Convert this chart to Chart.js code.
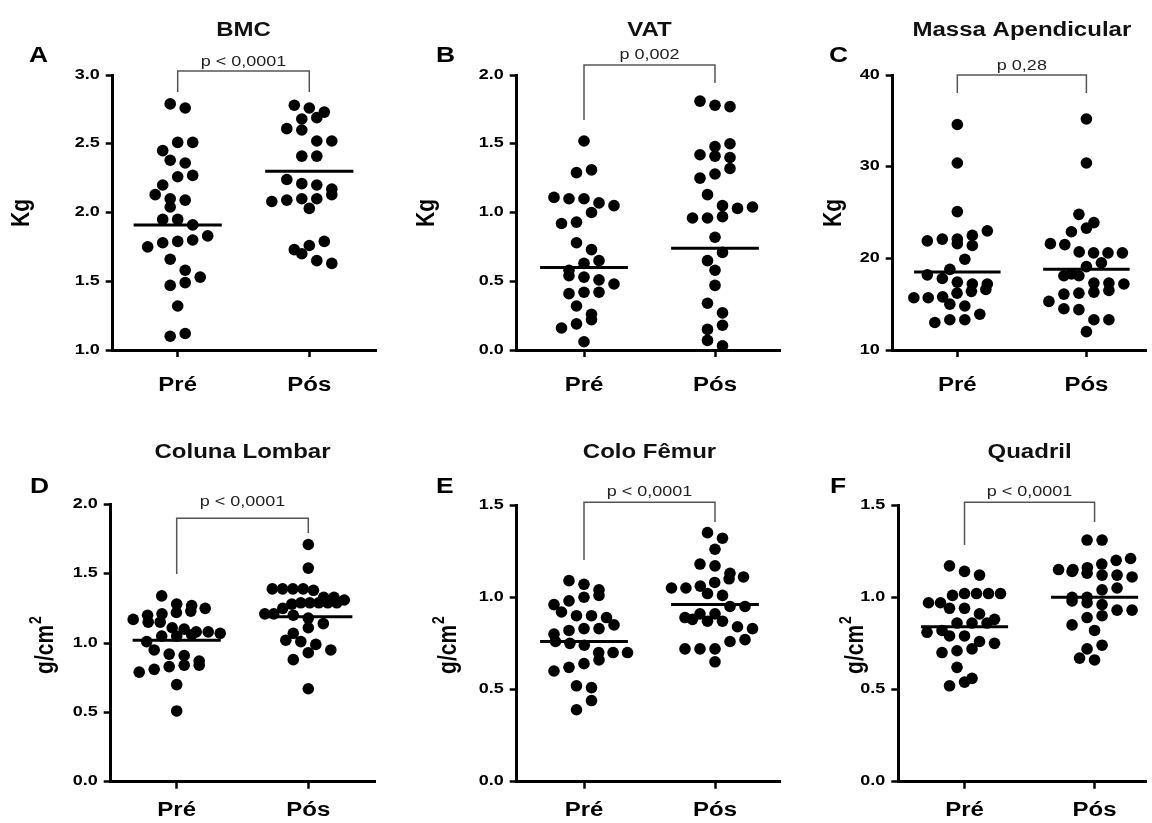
<!DOCTYPE html>
<html>
<head>
<meta charset="utf-8">
<script src="https://cdn.jsdelivr.net/npm/chart.js@4/dist/chart.umd.min.js"></script>
<style>
  html, body { margin: 0; padding: 0; background: #fff; }
  #page { position: relative; width: 1152px; height: 823px; overflow: hidden; background: #fff; }
  #page canvas { position: absolute; }
</style>
</head>
<body>
<div id="page"></div>
<script>
// ---- data ----
const groups = ['Pré', 'Pós'];
const titles = ['BMC', 'VAT', 'Massa Apendicular', 'Coluna Lombar', 'Colo Fêmur', 'Quadril'];
const letters = ['A', 'B', 'C', 'D', 'E', 'F'];
const units = ['Kg', 'Kg', 'Kg', 'g/cm²', 'g/cm²', 'g/cm²'];
const pLabels = ['p < 0,0001', 'p 0,002', 'p 0,28', 'p < 0,0001', 'p < 0,0001', 'p < 0,0001'];
// [min, max, step, decimals]
const yRanges = [[1, 3, 0.5, 1], [0, 2, 0.5, 1], [10, 40, 10, 0], [0, 2, 0.5, 1], [0, 1.5, 0.5, 1], [0, 1.5, 0.5, 1]];

const bmcPre = [2.76, 2.79, 2.51, 2.51, 2.45, 2.36, 2.38, 2.26, 2.27, 2.20, 2.10, 2.13, 2.09, 2.04, 1.95, 1.95, 1.91, 1.83, 1.79, 1.78, 1.80, 1.75, 1.66, 1.58, 1.53, 1.47, 1.49, 1.32, 1.10, 1.12];
const bmcPos = [2.78, 2.76, 2.69, 2.73, 2.68, 2.61, 2.60, 2.52, 2.52, 2.41, 2.41, 2.24, 2.20, 2.17, 2.21, 2.10, 2.09, 2.08, 2.10, 2.13, 2.03, 1.79, 1.76, 1.73, 1.70, 1.63, 1.65];
const bmcLine = [1.91, 2.30];

const vatPre = [1.52, 1.29, 1.31, 1.10, 1.07, 1.10, 1.11, 1.00, 1.05, 0.92, 0.93, 0.78, 0.73, 0.63, 0.65, 0.58, 0.54, 0.51, 0.53, 0.48, 0.42, 0.41, 0.42, 0.32, 0.26, 0.22, 0.19, 0.16, 0.06];
const vatPos = [1.81, 1.77, 1.78, 1.48, 1.50, 1.41, 1.40, 1.42, 1.28, 1.25, 1.32, 1.13, 1.04, 0.96, 0.96, 0.97, 1.03, 1.05, 0.82, 0.71, 0.65, 0.58, 0.47, 0.34, 0.27, 0.18, 0.15, 0.07, 0.03];
const vatLine = [0.60, 0.74];

const massPre = [34.6, 30.4, 25.1, 23.0, 22.1, 21.9, 21.4, 21.6, 22.1, 22.5, 19.9, 18.8, 17.8, 18.2, 17.2, 17.2, 17.4, 16.2, 16.6, 16.4, 15.7, 15.7, 15.8, 15.0, 14.8, 13.9, 13.3, 13.0, 13.3];
const massPos = [35.2, 30.4, 24.8, 23.3, 22.9, 23.9, 21.5, 21.6, 20.6, 20.6, 20.6, 20.7, 19.5, 19.1, 18.1, 18.1, 18.3, 17.3, 17.3, 17.2, 16.3, 16.1, 16.2, 16.5, 15.3, 14.5, 14.4, 13.3, 13.3, 12.0];
const massLine = [18.5, 18.8];

const lumbarPre = [1.34, 1.23, 1.17, 1.15, 1.21, 1.27, 1.20, 1.22, 1.25, 1.28, 1.15, 1.11, 1.10, 1.07, 1.08, 1.08, 1.06, 1.05, 1.05, 1.01, 0.95, 0.91, 0.92, 0.87, 0.84, 0.84, 0.83, 0.81, 0.79, 0.70, 0.51];
const lumbarPos = [1.71, 1.54, 1.39, 1.38, 1.39, 1.39, 1.39, 1.33, 1.33, 1.29, 1.29, 1.28, 1.29, 1.29, 1.29, 1.31, 1.25, 1.21, 1.21, 1.18, 1.20, 1.14, 1.11, 1.07, 1.01, 0.99, 1.02, 0.93, 0.95, 0.88, 0.67];
const lumbarLine = [1.02, 1.19];

const femurPre = [1.09, 1.07, 1.04, 1.00, 1.01, 0.98, 0.96, 0.92, 0.90, 0.90, 0.89, 0.85, 0.83, 0.82, 0.83, 0.80, 0.76, 0.75, 0.74, 0.70, 0.70, 0.70, 0.66, 0.64, 0.62, 0.60, 0.52, 0.51, 0.44, 0.39];
const femurPos = [1.32, 1.35, 1.26, 1.18, 1.17, 1.13, 1.10, 1.11, 1.08, 1.05, 1.05, 1.06, 1.02, 1.01, 0.95, 0.95, 0.91, 0.91, 0.87, 0.87, 0.88, 0.89, 0.84, 0.83, 0.77, 0.76, 0.72, 0.72, 0.72, 0.65];
const femurLine = [0.76, 0.96];

const hipPre = [1.17, 1.12, 1.14, 1.02, 1.02, 1.01, 1.02, 1.02, 0.97, 0.97, 0.94, 0.94, 0.91, 0.88, 0.86, 0.82, 0.81, 0.86, 0.86, 0.79, 0.79, 0.76, 0.72, 0.75, 0.70, 0.71, 0.62, 0.56, 0.54, 0.52];
const hipPos = [1.31, 1.31, 1.21, 1.20, 1.18, 1.16, 1.15, 1.13, 1.12, 1.12, 1.11, 1.14, 1.15, 1.05, 1.04, 1.00, 1.00, 0.98, 0.96, 0.97, 0.93, 0.93, 0.90, 0.89, 0.85, 0.82, 0.72, 0.74, 0.66, 0.67];
const hipLine = [0.84, 1.00];

const seriesList = [[bmcPre, bmcPos], [vatPre, vatPos], [massPre, massPos], [lumbarPre, lumbarPos], [femurPre, femurPos], [hipPre, hipPos]];
const lineList = [bmcLine, vatLine, massLine, lumbarLine, femurLine, hipLine];

// ---- layout (page pixel coordinates) ----
const layouts = [
  { box: [0, 0, 400, 411],     area: [112.7, 75, 376, 350],      pre: 177.7, pos: 309.3,  br: [71, 92, 92, 66],       titleY: 36,  letter: [29, 62],  unit: [22.5, 213], catY: 391 },
  { box: [400, 0, 392, 411],   area: [516.7, 75, 780, 350],      pre: 584,   pos: 715,    br: [65, 120, 83, 59],      titleY: 36,  letter: [436, 62], unit: [427, 213],  catY: 391 },
  { box: [792, 0, 360, 411],   area: [892.7, 75, 1150, 350],     pre: 958.3, pos: 1089.3, br: [75, 93, 93, 70],       titleY: 36,  letter: [829, 62], unit: [834, 213],  catY: 391 },
  { box: [0, 411, 400, 412],   area: [110.7, 504.3, 375, 781.7], pre: 176.7, pos: 308.3,  br: [518.3, 574, 533, 506], titleY: 458, letter: [30, 493], unit: [46, 645],   catY: 816 },
  { box: [400, 411, 392, 412], area: [516.7, 505, 780, 781.7],   pre: 584,   pos: 715,    br: [502.3, 560, 522, 496], titleY: 458, letter: [436, 493], unit: [449, 645], catY: 816 },
  { box: [792, 411, 360, 412], area: [898.3, 505, 1148, 781.7],  pre: 965,   pos: 1096,   br: [502.3, 545, 522, 496], titleY: 458, letter: [830, 493], unit: [856, 645], catY: 816 }
];

const FONT = '"Liberation Sans", Arial, Helvetica, sans-serif';
const SX = 1.2;          // horizontal text stretch
const DOT_R = 5.8;
const LINE_HALF = 0.335; // half width of centre line, in category units

function txt(ctx, s, x, y, font, align, color) {
  ctx.save();
  ctx.font = font;
  ctx.fillStyle = color || '#000';
  ctx.textAlign = align;
  ctx.textBaseline = 'alphabetic';
  ctx.translate(x, y);
  ctx.scale(SX, 1);
  ctx.fillText(s, 0, 0);
  ctx.restore();
}

function unitText(ctx, s, x, y) {
  const main = 'bold 21px ' + FONT, sup = 'bold 14px ' + FONT;
  const hasSup = s.indexOf('²') >= 0;
  const base = s.replace('²', '');
  ctx.save();
  ctx.translate(x, y);
  ctx.scale(SX, 1);
  ctx.rotate(-Math.PI / 2);
  ctx.fillStyle = '#000';
  ctx.textBaseline = 'middle';
  ctx.textAlign = 'left';
  ctx.font = main;
  const wb = ctx.measureText(base).width;
  ctx.font = sup;
  const ws = hasSup ? ctx.measureText('2').width + 1 : 0;
  const start = -(wb + ws) / 2;
  ctx.font = main;
  ctx.fillText(base, start, 0);
  if (hasSup) { ctx.font = sup; ctx.fillText('2', start + wb + 1, -8); }
  ctx.restore();
}

// column scatter layout: values close together share a row, spread evenly about the column centre
function rowLayout(py, d, s, maxW) {
  const order = py.map((_, i) => i).sort((a, b) => py[a] - py[b]);
  const bins = [];
  order.forEach(i => {
    const last = bins[bins.length - 1];
    if (last && py[i] - py[last[0]] < d) last.push(i); else bins.push([i]);
  });
  const out = new Array(py.length);
  const placed = [];
  bins.forEach((bin, b) => {
    const n = bin.length;
    const step = n > 1 ? Math.min(s, maxW / (n - 1)) : 0;
    const pos = bin.map((_, j) => (j - (n - 1) / 2) * step);
    if (b % 2) pos.reverse();
    const clash = sh => bin.some((i, j) => placed.some(p => Math.hypot(p.x - (pos[j] + sh), p.y - py[i]) < d * 0.85));
    let shift = 0;
    if (clash(0)) {
      shift = (b % 2 ? 1 : -1) * s / 2;
      if (clash(shift)) shift = -shift;
    }
    bin.forEach((i, j) => {
      out[i] = pos[j] + shift;
      placed.push({ x: out[i], y: py[i] });
    });
  });
  return out;
}

function decor(k) {
  const L = layouts[k], ox = L.box[0], oy = L.box[1], rng = yRanges[k];
  return {
    id: 'decor' + k,
    afterDatasetsDraw(chart) {
      const ctx = chart.ctx, xs = chart.scales.x, ys = chart.scales.y;
      ctx.save();
      ctx.strokeStyle = '#000';
      ctx.lineWidth = 3;
      lineList[k].forEach((v, g) => {
        const y = ys.getPixelForValue(v);
        ctx.beginPath();
        ctx.moveTo(xs.getPixelForValue(g + 1 - LINE_HALF), y);
        ctx.lineTo(xs.getPixelForValue(g + 1 + LINE_HALF), y);
        ctx.stroke();
      });
      ctx.restore();
    },
    afterDraw(chart) {
      const ctx = chart.ctx, xs = chart.scales.x, ys = chart.scales.y, a = chart.chartArea;
      ys.ticks.forEach(t => {
        txt(ctx, t.value.toFixed(rng[3]), a.left - 13, ys.getPixelForValue(t.value) + 3.5, 'bold 15px ' + FONT, 'right');
      });
      groups.forEach((g, i) => txt(ctx, g, xs.getPixelForValue(i + 1), L.catY - oy, 'bold 20px ' + FONT, 'center'));
      const x1 = xs.getPixelForValue(1), x2 = xs.getPixelForValue(2);
      ctx.save();
      ctx.strokeStyle = '#555';
      ctx.lineWidth = 1.5;
      ctx.beginPath();
      ctx.moveTo(x1, L.br[1] - oy);
      ctx.lineTo(x1, L.br[0] - oy);
      ctx.lineTo(x2, L.br[0] - oy);
      ctx.lineTo(x2, L.br[2] - oy);
      ctx.stroke();
      ctx.restore();
      txt(ctx, pLabels[k], (x1 + x2) / 2, L.br[3] - oy, '15px ' + FONT, 'center', '#222');
      txt(ctx, titles[k], (x1 + x2) / 2, L.titleY - oy, 'bold 20px ' + FONT, 'center', '#111');
      txt(ctx, letters[k], L.letter[0] - ox, L.letter[1] - oy, 'bold 22px ' + FONT, 'left');
      unitText(ctx, units[k], L.unit[0] - ox, L.unit[1] - oy);
    }
  };
}

const page = document.getElementById('page');
const axisGrid = { display: true, drawOnChartArea: false, drawTicks: true, tickLength: 7, tickWidth: 2.5, tickColor: '#000' };
const axisBorder = { display: true, width: 3, color: '#000' };

layouts.forEach((L, k) => {
  const [bx, by, bw, bh] = L.box;
  const [al, at, ar, ab] = L.area;
  const cv = document.createElement('canvas');
  cv.width = bw; cv.height = bh;
  cv.style.left = bx + 'px'; cv.style.top = by + 'px';
  cv.style.width = bw + 'px'; cv.style.height = bh + 'px';
  page.appendChild(cv);

  const unitPx = L.pos - L.pre;
  const xmin = 1 - (L.pre - al) / unitPx;
  const xmax = 2 + (ar - L.pos) / unitPx;
  const rng = yRanges[k];

  const chart = new Chart(cv, {
    type: 'scatter',
    data: {
      datasets: seriesList[k].map((vals, g) => ({
        label: groups[g],
        data: vals.map(v => ({ x: g + 1, y: v })),
        pointRadius: DOT_R,
        pointHoverRadius: DOT_R,
        backgroundColor: '#000',
        borderWidth: 0,
        clip: false
      }))
    },
    options: {
      responsive: false,
      animation: false,
      devicePixelRatio: 1,
      events: [],
      layout: { padding: { left: al - bx, top: at - by, right: bx + bw - ar, bottom: by + bh - ab } },
      plugins: { legend: { display: false }, tooltip: { enabled: false }, title: { display: false } },
      scales: {
        x: {
          type: 'linear', min: xmin, max: xmax,
          afterBuildTicks: s => { s.ticks = [{ value: 1 }, { value: 2 }]; },
          afterFit: s => { s.height = 0; },
          ticks: { display: false },
          grid: axisGrid, border: axisBorder
        },
        y: {
          type: 'linear', min: rng[0], max: rng[1],
          ticks: { display: false, stepSize: rng[2] },
          afterFit: s => { s.width = 0; },
          grid: axisGrid, border: axisBorder
        }
      }
    },
    plugins: [decor(k)]
  });

  const xs = chart.scales.x, ys = chart.scales.y;
  const pxPerUnit = xs.getPixelForValue(2) - xs.getPixelForValue(1);
  chart.data.datasets.forEach((ds, g) => {
    const vals = seriesList[k][g];
    const off = rowLayout(vals.map(v => ys.getPixelForValue(v)), 12, 15, 72);
    ds.data = vals.map((v, i) => ({ x: g + 1 + off[i] / pxPerUnit, y: v }));
  });
  chart.update('none');
});
</script>
</body>
</html>
